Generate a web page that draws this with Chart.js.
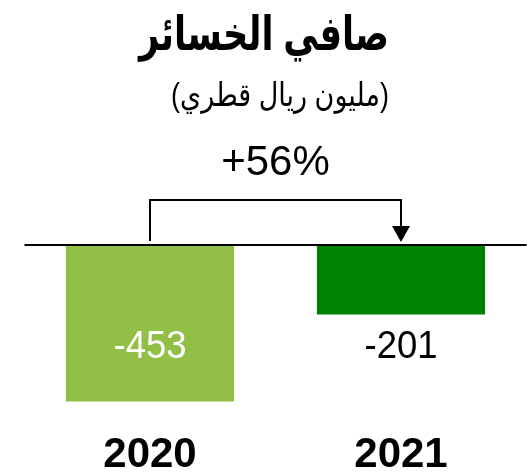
<!DOCTYPE html>
<html>
<head>
<meta charset="utf-8">
<script src="https://cdn.jsdelivr.net/npm/chart.js@4/dist/chart.umd.min.js"></script>
<style>
  html, body { margin: 0; padding: 0; background: #fff; }
  #wrap { width: 527px; height: 472px; }
</style>
</head>
<body>
<div id="wrap"><canvas id="lossChart" width="527" height="472"></canvas></div>
<script>
const years = ['2020', '2021'];
const netLoss = [-453, -201];
const barColors = ['#92bf46', '#008000'];
const labelColors = ['#ffffff', '#000000'];
const changeLabel = '+56%';
const titleText = 'صافي الخسائر';
const subtitleText = '(مليون ريال قطري)';

const FONT = '"Liberation Sans", Arial, "DejaVu Sans", sans-serif';

// draw text scaled around its anchor point
function stretchText(ctx, text, x, y, sx, sy) {
  ctx.save();
  ctx.translate(x, y);
  ctx.scale(sx, sy);
  ctx.fillText(text, 0, 0);
  ctx.restore();
}

const overlay = {
  id: 'overlay',
  afterDatasetsDraw(chart) {
    const { ctx, chartArea, scales } = chart;
    const y0 = scales.y.getPixelForValue(0);
    const meta = chart.getDatasetMeta(0);
    ctx.save();

    // zero line
    ctx.strokeStyle = '#000';
    ctx.lineWidth = 2;
    ctx.beginPath();
    ctx.moveTo(chartArea.left, y0);
    ctx.lineTo(chartArea.right, y0);
    ctx.stroke();

    // title + subtitle
    ctx.fillStyle = '#000';
    ctx.textAlign = 'center';
    ctx.textBaseline = 'alphabetic';
    ctx.font = 'bold 38px ' + FONT;
    stretchText(ctx, titleText, 264, 50, 0.925, 1.25);
    ctx.font = '27px ' + FONT;
    stretchText(ctx, subtitleText, 280, 106, 1.0, 1.2);

    // bracket arrow between bars
    const xa = meta.data[0].x, xb = meta.data[1].x;
    const top = 200;
    ctx.lineWidth = 2;
    ctx.beginPath();
    ctx.moveTo(xa, y0 - 4);
    ctx.lineTo(xa, top);
    ctx.lineTo(xb, top);
    ctx.lineTo(xb, y0 - 14);
    ctx.stroke();
    ctx.beginPath();
    ctx.moveTo(xb - 9, y0 - 19);
    ctx.lineTo(xb + 9, y0 - 19);
    ctx.lineTo(xb, y0 - 3);
    ctx.closePath();
    ctx.fill();

    ctx.font = '42px ' + FONT;
    ctx.textBaseline = 'middle';
    ctx.fillText(changeLabel, (xa + xb) / 2, 163);

    // value labels
    ctx.font = '38px ' + FONT;
    meta.data.forEach((bar, i) => {
      ctx.fillStyle = labelColors[i];
      const y = i === 0 ? bar.y - 54 : bar.y + 33;
      stretchText(ctx, String(netLoss[i]), bar.x, y, 0.96, 1.02);
    });

    // year labels
    ctx.fillStyle = '#000';
    ctx.font = 'bold 42px ' + FONT;
    ctx.textBaseline = 'alphabetic';
    meta.data.forEach((bar, i) => {
      ctx.fillText(years[i], bar.x, 467);
    });
    ctx.restore();
  }
};

new Chart(document.getElementById('lossChart').getContext('2d'), {
  type: 'bar',
  data: {
    labels: years,
    datasets: [{
      data: netLoss,
      backgroundColor: barColors,
      borderWidth: 0,
      barPercentage: 0.67,
      categoryPercentage: 1
    }]
  },
  options: {
    responsive: false,
    animation: false,
    layout: { padding: { left: 24.5, right: 0.5, top: 0, bottom: 0 } },
    plugins: { legend: { display: false }, tooltip: { enabled: false } },
    scales: {
      x: { display: false },
      y: { display: false, min: -657, max: 709 }
    }
  },
  plugins: [overlay]
});
</script>
</body>
</html>
